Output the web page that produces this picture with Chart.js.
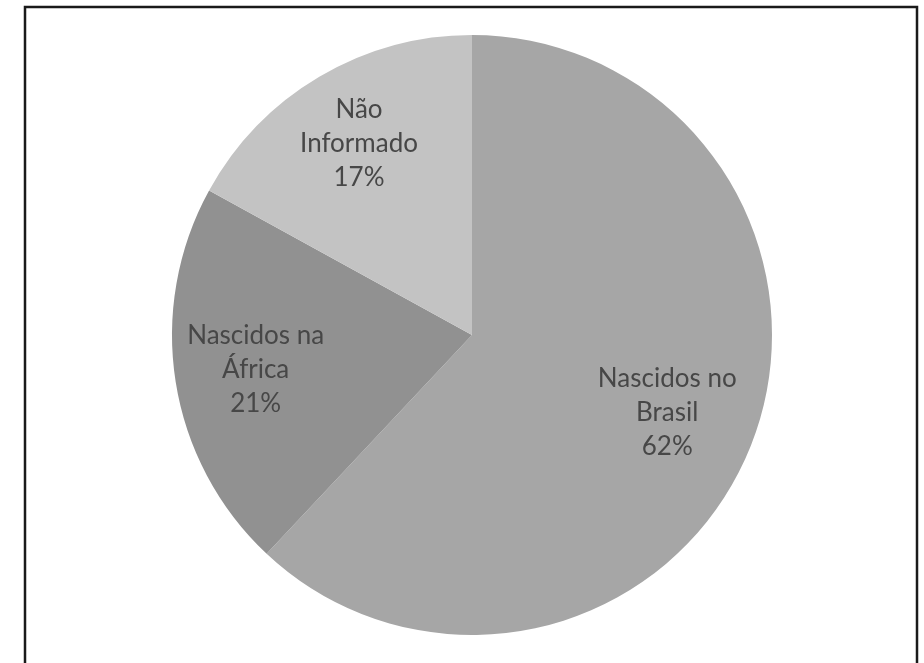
<!DOCTYPE html>
<html>
<head>
<meta charset="utf-8">
<script src="https://cdn.jsdelivr.net/npm/chart.js@4/dist/chart.umd.min.js"></script>
<style>
  html, body { margin: 0; padding: 0; background: #ffffff; }
  #wrap { position: relative; width: 924px; height: 663px; }
</style>
</head>
<body>
<div id="wrap"><canvas id="c" width="924" height="663"></canvas></div>
<script>
// Origem dos escravizados
const categories = ['Nascidos no Brasil', 'Nascidos na África', 'Não Informado'];
const labelLines = [['Nascidos no', 'Brasil'], ['Nascidos na', 'África'], ['Não', 'Informado']];
const shares = [62, 21, 17];
const sliceColors = ['#a6a6a6', '#919191', '#c3c3c3'];

// radial position of each label, as a fraction of the radius
const labelRadius = [0.70, 0.73, 0.74];

const framePlugin = {
  id: 'frame',
  afterDraw(chart) {
    const ctx = chart.ctx;
    ctx.save();
    ctx.strokeStyle = '#1a1a1a';
    ctx.lineWidth = 2.5;
    ctx.strokeRect(25, 7, 892, 720);
    ctx.restore();
  }
};

const sliceLabels = {
  id: 'sliceLabels',
  afterDatasetsDraw(chart) {
    const ctx = chart.ctx;
    const meta = chart.getDatasetMeta(0);
    ctx.save();
    ctx.font = '26px Lato, "Open Sans", sans-serif';
    ctx.fillStyle = '#474747';
    ctx.textAlign = 'center';
    ctx.textBaseline = 'middle';
    const lh = 34;
    meta.data.forEach((arc, i) => {
      const p = arc.getProps(['x', 'y', 'startAngle', 'endAngle', 'outerRadius'], true);
      const mid = (p.startAngle + p.endAngle) / 2;
      const d = p.outerRadius * labelRadius[i];
      const x = p.x + Math.cos(mid) * d;
      const y = p.y + Math.sin(mid) * d;
      const lines = labelLines[i].concat([shares[i] + '%']);
      lines.forEach((t, k) => {
        ctx.fillText(t, x, y + (k - (lines.length - 1) / 2) * lh);
      });
    });
    ctx.restore();
  }
};

new Chart(document.getElementById('c'), {
  type: 'pie',
  data: {
    labels: categories,
    datasets: [{
      data: shares,
      backgroundColor: sliceColors,
      borderWidth: 0
    }]
  },
  options: {
    responsive: false,
    animation: false,
    layout: { padding: { left: 20, right: 0, top: 35, bottom: 28 } },
    plugins: {
      legend: { display: false },
      tooltip: { enabled: false }
    }
  },
  plugins: [sliceLabels, framePlugin]
});
</script>
</body>
</html>
